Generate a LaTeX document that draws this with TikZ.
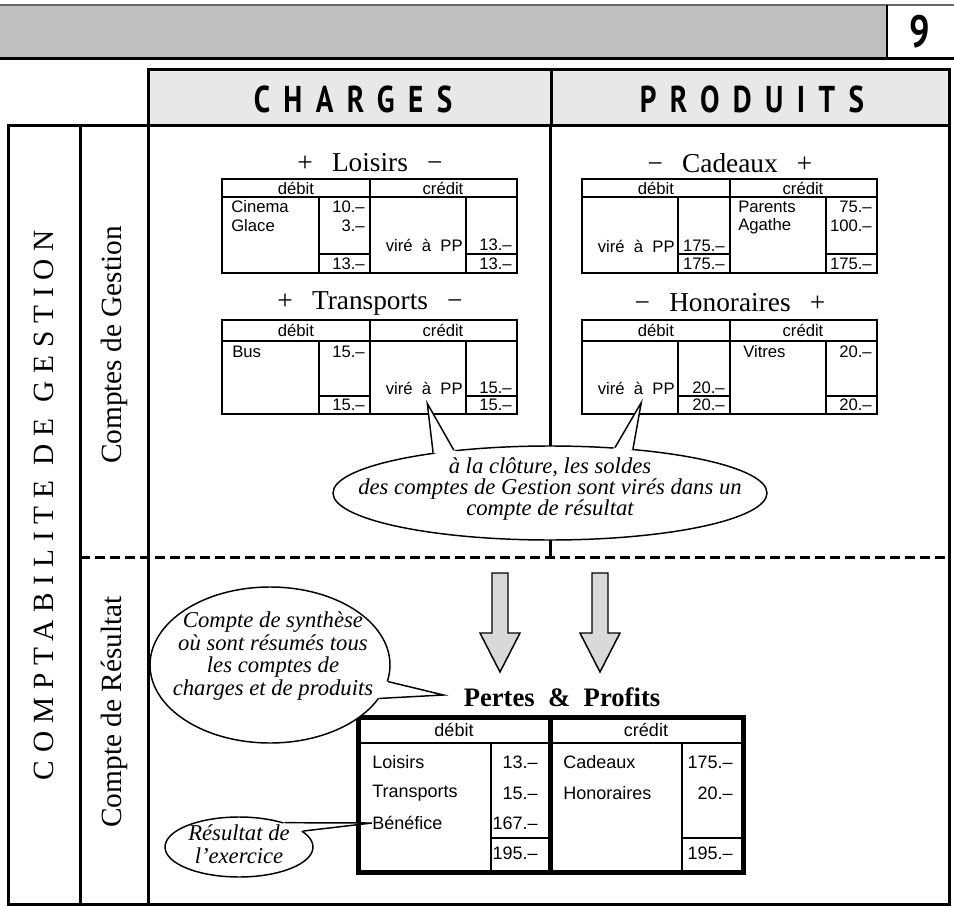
\documentclass[tikz,border=0pt]{standalone}
\usepackage{fontspec}
\setmainfont{Liberation Serif}
\setsansfont{Liberation Sans}
\newfontfamily\titrefont[FakeStretch=0.78,LetterSpace=36]{PT Sans}
\newfontfamily\numfont[FakeStretch=0.8]{PT Sans}
\newfontfamily\colfont[LetterSpace=27]{Liberation Serif}
\usetikzlibrary{shapes.geometric,calc}

\begin{document}
\begin{tikzpicture}[x=0.75pt,y=0.75pt,yscale=-1,xscale=1,
  cadre/.style={line width=2.25pt},
  trait/.style={line width=1.1pt},
  milieu/.style={line width=2.2pt},
  gras/.style={line width=3.75pt},
  cell/.style={font=\sffamily\fontsize{12.5}{14}\selectfont, inner sep=0pt},
  gauche/.style={cell, anchor=west},
  droite/.style={cell, anchor=east},
  pcell/.style={font=\sffamily\fontsize{13.5}{16}\selectfont, inner sep=0pt},
  pgauche/.style={pcell, anchor=west},
  pdroite/.style={pcell, anchor=east},
  compte/.style={font=\fontsize{20.5}{24}\selectfont, inner sep=0pt},
  bulle/.style={draw, ellipse, line width=1.1pt, fill=white, inner sep=0pt},
  btexte/.style={font=\itshape\fontsize{17}{16}\selectfont, align=center, inner sep=0pt},
  fleche/.style={draw, line width=1.1pt, fill=black!15, line join=miter},
  queue/.style={line width=1.1pt}
]
\useasboundingbox (0,0) rectangle (954,906);

%Shape: Rectangle
\fill[black!25] (0,5) rectangle (887,59);
%Straight Lines
\draw[line width=1pt, black!60] (0,5) -- (954,5);
\draw[cadre] (0,59) -- (954,59);
\draw[line width=1.5pt] (887,5) -- (887,59);
% Text Node
\node[font=\numfont\bfseries\fontsize{34}{34}\selectfont] (num) at (920,32) {9};

%Shape: Rectangle
\draw[cadre, fill=black!9] (148,70) rectangle (949,126);
\draw[cadre] (551,70) -- (551,126);
% Text Node
\node[font=\titrefont\bfseries\fontsize{28}{28}\selectfont] (charges) at (353,99) {CHARGES};
% Text Node
\node[font=\titrefont\bfseries\fontsize{28}{28}\selectfont] (produits) at (752,99) {PRODUITS};

%Shape: Rectangle
\draw[cadre] (8,126) rectangle (949,904);
%Straight Lines
\draw[cadre] (80,126) -- (80,904);
\draw[cadre] (148,126) -- (148,904);
\draw[cadre] (550,126) -- (550,557);
\draw[cadre, dash pattern=on 7.5pt off 3.75pt] (80,557) -- (949,557);

% Text Node
\node[rotate=90, font=\colfont\fontsize{22}{24}\selectfont] (compta) at (44,505) {COMPTABILITE DE GESTION};
% Text Node
\node[rotate=90, font=\fontsize{22}{24}\selectfont] (gestion) at (114,345) {Comptes de Gestion};
% Text Node
\node[rotate=90, font=\fontsize{22}{24}\selectfont] (resultat) at (114,712) {Compte de Résultat};

%Shape: Table Loisirs
\draw[trait] (222,179) rectangle (517,273);
\draw[trait] (222,197) -- (517,197);
\draw[milieu] (370,179) -- (370,273);
\draw[trait] (319,197) -- (319,273);
\draw[trait] (466,197) -- (466,273);
\draw[trait] (319,254) -- (370,254);
\draw[trait] (466,254) -- (517,254);
% Text Node
\node[compte] (tLoisirs) at (370,163) {+\hspace{0.7em}Loisirs\hspace{0.7em}−};
\node[cell] (loDeb) at (296,188) {débit};
\node[cell] (loCre) at (443,188) {crédit};
\node[gauche] (loCinema) at (231,207) {Cinema};
\node[gauche] (loGlace) at (231,226) {Glace};
\node[droite] (loM1) at (365,207) {10.–};
\node[droite] (loM2) at (365,226) {3.–};
\node[droite] (loTotD) at (365,264) {13.–};
\node[droite] (vireLo) at (463,245) {viré\ \ à\ \ PP};
\node[droite] (loM3) at (512,245) {13.–};
\node[droite] (loTotC) at (512,264) {13.–};

%Shape: Table Cadeaux
\draw[trait] (582,179) rectangle (877,273);
\draw[trait] (582,197) -- (877,197);
\draw[milieu] (730,179) -- (730,273);
\draw[trait] (678,197) -- (678,273);
\draw[trait] (826,197) -- (826,273);
\draw[trait] (678,254) -- (730,254);
\draw[trait] (826,254) -- (877,254);
% Text Node
\node[compte] (tCadeaux) at (730,163) {−\hspace{0.7em}Cadeaux\hspace{0.7em}+};
\node[cell] (caDeb) at (656,188) {débit};
\node[cell] (caCre) at (803,188) {crédit};
\node[droite] (vireCa) at (675,246) {viré\ \ à\ \ PP};
\node[droite] (caM1) at (725,246) {175.–};
\node[droite] (caTotD) at (725,264) {175.–};
\node[gauche] (caParents) at (738,207) {Parents};
\node[gauche] (caAgathe) at (738,226) {Agathe};
\node[droite] (caM2) at (872,207) {75.–};
\node[droite] (caM3) at (872,226) {100.–};
\node[droite] (caTotC) at (872,264) {175.–};

%Shape: Table Transports
\draw[trait] (222,320) rectangle (517,414);
\draw[trait] (222,341) -- (517,341);
\draw[milieu] (370,320) -- (370,414);
\draw[trait] (319,341) -- (319,414);
\draw[trait] (466,341) -- (466,414);
\draw[trait] (319,396) -- (370,396);
\draw[trait] (466,396) -- (517,396);
% Text Node
\node[compte] (tTransports) at (370,303) {+\hspace{0.7em}Transports\hspace{0.7em}−};
\node[cell] (trDeb) at (296,330) {débit};
\node[cell] (trCre) at (443,330) {crédit};
\node[gauche] (trBus) at (232,352) {Bus};
\node[droite] (trM1) at (365,352) {15.–};
\node[droite] (trTotD) at (365,405) {15.–};
\node[droite] (vireTr) at (463,388) {viré\ \ à\ \ PP};
\node[droite] (trM2) at (512,388) {15.–};
\node[droite] (trTotC) at (512,405) {15.–};

%Shape: Table Honoraires
\draw[trait] (582,320) rectangle (877,414);
\draw[trait] (582,341) -- (877,341);
\draw[milieu] (730,320) -- (730,414);
\draw[trait] (678,341) -- (678,414);
\draw[trait] (826,341) -- (826,414);
\draw[trait] (678,396) -- (730,396);
\draw[trait] (826,396) -- (877,396);
% Text Node
\node[compte] (tHonoraires) at (730,303) {−\hspace{0.7em}Honoraires\hspace{0.7em}+};
\node[cell] (hoDeb) at (656,330) {débit};
\node[cell] (hoCre) at (803,330) {crédit};
\node[droite] (vireHo) at (675,388) {viré\ \ à\ \ PP};
\node[droite] (hoM1) at (725,388) {20.–};
\node[droite] (hoTotD) at (725,405) {20.–};
\node[gauche] (hoVitres) at (743,352) {Vitres};
\node[droite] (hoM2) at (872,352) {20.–};
\node[droite] (hoTotC) at (872,405) {20.–};

%Shape: Ellipse
\node[bulle, minimum width=325.5pt, minimum height=70.5pt] (bulle) at (550,493) {};
%Shape: Callout tails
\fill[white] ($(bulle.center)!.9!(bulle.161)$) -- (bulle.161) -- ($(vireTr.south)+(3,9)$) -- (bulle.156) -- ($(bulle.center)!.9!(bulle.156)$) -- cycle;
\draw[queue] (bulle.161) -- ($(vireTr.south)+(3,9)$) -- (bulle.156);
\fill[white] ($(bulle.center)!.9!(bulle.35)$) -- (bulle.35) -- ($(vireHo.south)+(5,8)$) -- (bulle.28) -- ($(bulle.center)!.9!(bulle.28)$) -- cycle;
\draw[queue] (bulle.35) -- ($(vireHo.south)+(5,8)$) -- (bulle.28);
% Text Node
\node[btexte] (bulleTxt) at (550,489) {à la clôture, les soldes\\des comptes de Gestion sont virés dans un\\compte de résultat};

%Shape: Down Arrow
\draw[fleche] (492,573) -- (508,573) -- (508,633) -- (520,633) -- (500,672) -- (480,633) -- (492,633) -- cycle;
%Shape: Down Arrow
\draw[fleche] (592,573) -- (608,573) -- (608,633) -- (620,633) -- (600,672) -- (580,633) -- (592,633) -- cycle;

% Text Node
\node[font=\bfseries\fontsize{20}{24}\selectfont, inner sep=0pt] (pertes) at (562,697) {Pertes\ \ \&\ \ Profits};

%Shape: Table Pertes et Profits
\draw[gras] (358,717) rectangle (743,872);
\draw[gras] (550,717) -- (550,872);
\draw[trait] (358,743) -- (743,743);
\draw[trait] (491,743) -- (491,872);
\draw[trait] (682,743) -- (682,872);
\draw[trait] (491,838) -- (550,838);
\draw[trait] (682,838) -- (743,838);
% Text Node
\node[pcell] (ppDeb) at (454,730) {débit};
\node[pcell] (ppCre) at (646,730) {crédit};
\node[pgauche] (ppLoisirs) at (372,762) {Loisirs};
\node[pgauche] (ppTransports) at (372,793) {Transports};
\node[pgauche] (benef) at (372,823) {Bénéfice};
\node[pdroite] (ppM1) at (538,762) {13.–};
\node[pdroite] (ppM2) at (538,793) {15.–};
\node[pdroite] (ppM3) at (538,823) {167.–};
\node[pdroite] (ppTotD) at (538,853) {195.–};
\node[pgauche] (ppCadeaux) at (563,762) {Cadeaux};
\node[pgauche] (ppHonoraires) at (563,793) {Honoraires};
\node[pdroite] (ppM4) at (733,762) {175.–};
\node[pdroite] (ppM5) at (733,793) {20.–};
\node[pdroite] (ppTotC) at (733,853) {195.–};

%Shape: Ellipse
\node[bulle, minimum width=180pt, minimum height=117pt] (synth) at (270,665) {};
\fill[white] ($(synth.center)!.9!(synth.-8)$) -- (synth.-8) -- ($(pertes.west)+(-20,-2)$) -- (synth.-17) -- ($(synth.center)!.9!(synth.-17)$) -- cycle;
\draw[queue] (synth.-8) -- ($(pertes.west)+(-20,-2)$) -- (synth.-17);
% Text Node
\node[btexte, font=\itshape\fontsize{17}{17}\selectfont] (synthTxt) at (273,656) {Compte de synthèse\\où sont résumés tous\\les comptes de\\charges et de produits};

%Shape: Ellipse
\node[bulle, minimum width=111pt, minimum height=45pt] (exo) at (239,847) {};
\fill[white] ($(exo.center)!.9!(exo.28)$) -- (exo.28) -- (benef.west) -- (exo.14) -- ($(exo.center)!.9!(exo.14)$) -- cycle;
\draw[queue] (exo.28) -- (benef.west) -- (exo.14);
% Text Node
\node[btexte, font=\itshape\fontsize{17}{17}\selectfont] (exoTxt) at (239,844) {Résultat de\\l’exercice};

\end{tikzpicture}
\end{document}
